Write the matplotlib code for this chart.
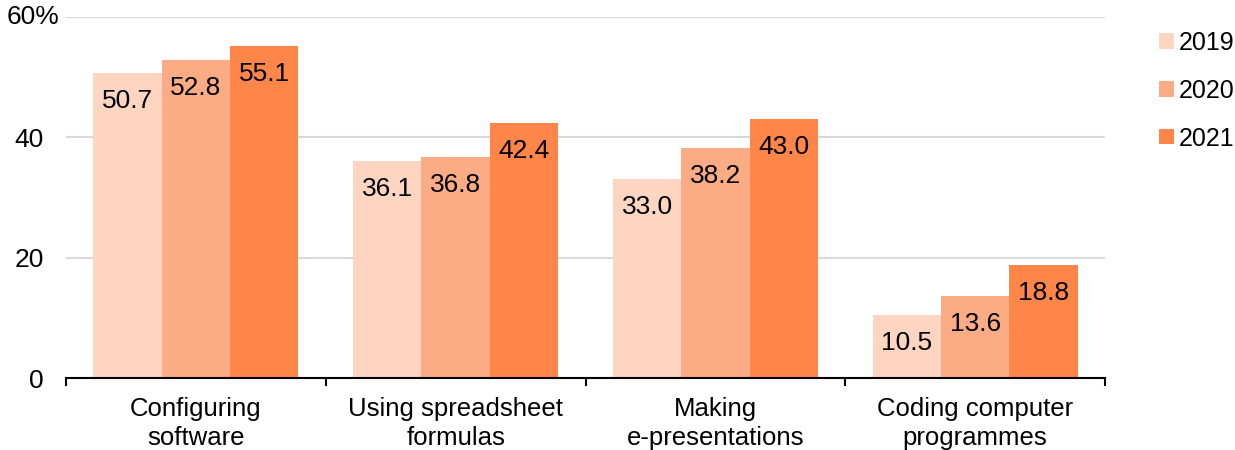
import matplotlib
matplotlib.use("Agg")
import matplotlib.pyplot as plt
import numpy as np

categories = ["Configuring\nsoftware", "Using spreadsheet\nformulas", "Making\ne-presentations", "Coding computer\nprogrammes"]
years = ["2019", "2020", "2021"]
v2019 = [50.7, 36.1, 33.0, 10.5]
v2020 = [52.8, 36.8, 38.2, 13.6]
v2021 = [55.1, 42.4, 43.0, 18.8]
series = [v2019, v2020, v2021]
colors = ["#FDD5C0", "#FCAC85", "#FF8649"]
yticks = [0, 20, 40, 60]

FS = 19
plt.rcParams['font.family'] = ['Liberation Sans', 'DejaVu Sans']
fig = plt.figure(figsize=(12.35, 4.5), dpi=100)
W, H = 1235, 450
ax = fig.add_axes([66 / W, 72 / H, (1105 - 66) / W, (378 - 17) / H])

x = np.arange(len(categories))
bw = 0.263
for i, (vals, col, yr) in enumerate(zip(series, colors, years)):
    bars = ax.bar(x + (i - 1) * bw, vals, width=bw, color=col, label=yr, zorder=3, linewidth=0)
    for b, v in zip(bars, vals):
        ax.annotate(f"{v:.1f}", xy=(b.get_x() + b.get_width() / 2, v), xytext=(0, -28),
                    textcoords="offset pixels", ha="center", va="center", fontsize=FS, color="black", zorder=4)

ax.set_xlim(-0.5, len(categories) - 0.5)
ax.set_ylim(0, 60)
ax.set_yticks(yticks)
ax.set_yticklabels([str(t) for t in yticks[:-1]] + [""])
ax.annotate(f"{yticks[-1]}%", xy=(0, yticks[-1]), xycoords=("axes fraction", "data"), xytext=(-7, 0),
            textcoords="offset pixels", ha="right", va="center", fontsize=FS)
ax.tick_params(axis="y", length=0, pad=16, labelsize=FS)
ax.grid(axis="y", color="#D9D9D9", linewidth=1.5, zorder=0)
ax.set_xticks(x)
ax.set_xticklabels(categories, fontsize=18.5, linespacing=1.25)
ax.tick_params(axis="x", which="major", length=0, pad=14)
ax.set_xticks(np.arange(-0.5, len(categories)), minor=True)
ax.tick_params(axis="x", which="minor", length=6, width=1.5, direction="out", color="black")
for s in ["top", "right", "left"]:
    ax.spines[s].set_visible(False)
ax.spines["bottom"].set_linewidth(1.5)
ax.spines["bottom"].set_zorder(5)

leg = fig.legend(loc="upper left", bbox_to_anchor=(1159 / W, 1 - 31 / H), frameon=False, fontsize=18,
                 handlelength=0.58, handleheight=0.58, handletextpad=0.2, labelspacing=0.95,
                 borderaxespad=0, borderpad=0)

fig.savefig("out.png", dpi=100)
